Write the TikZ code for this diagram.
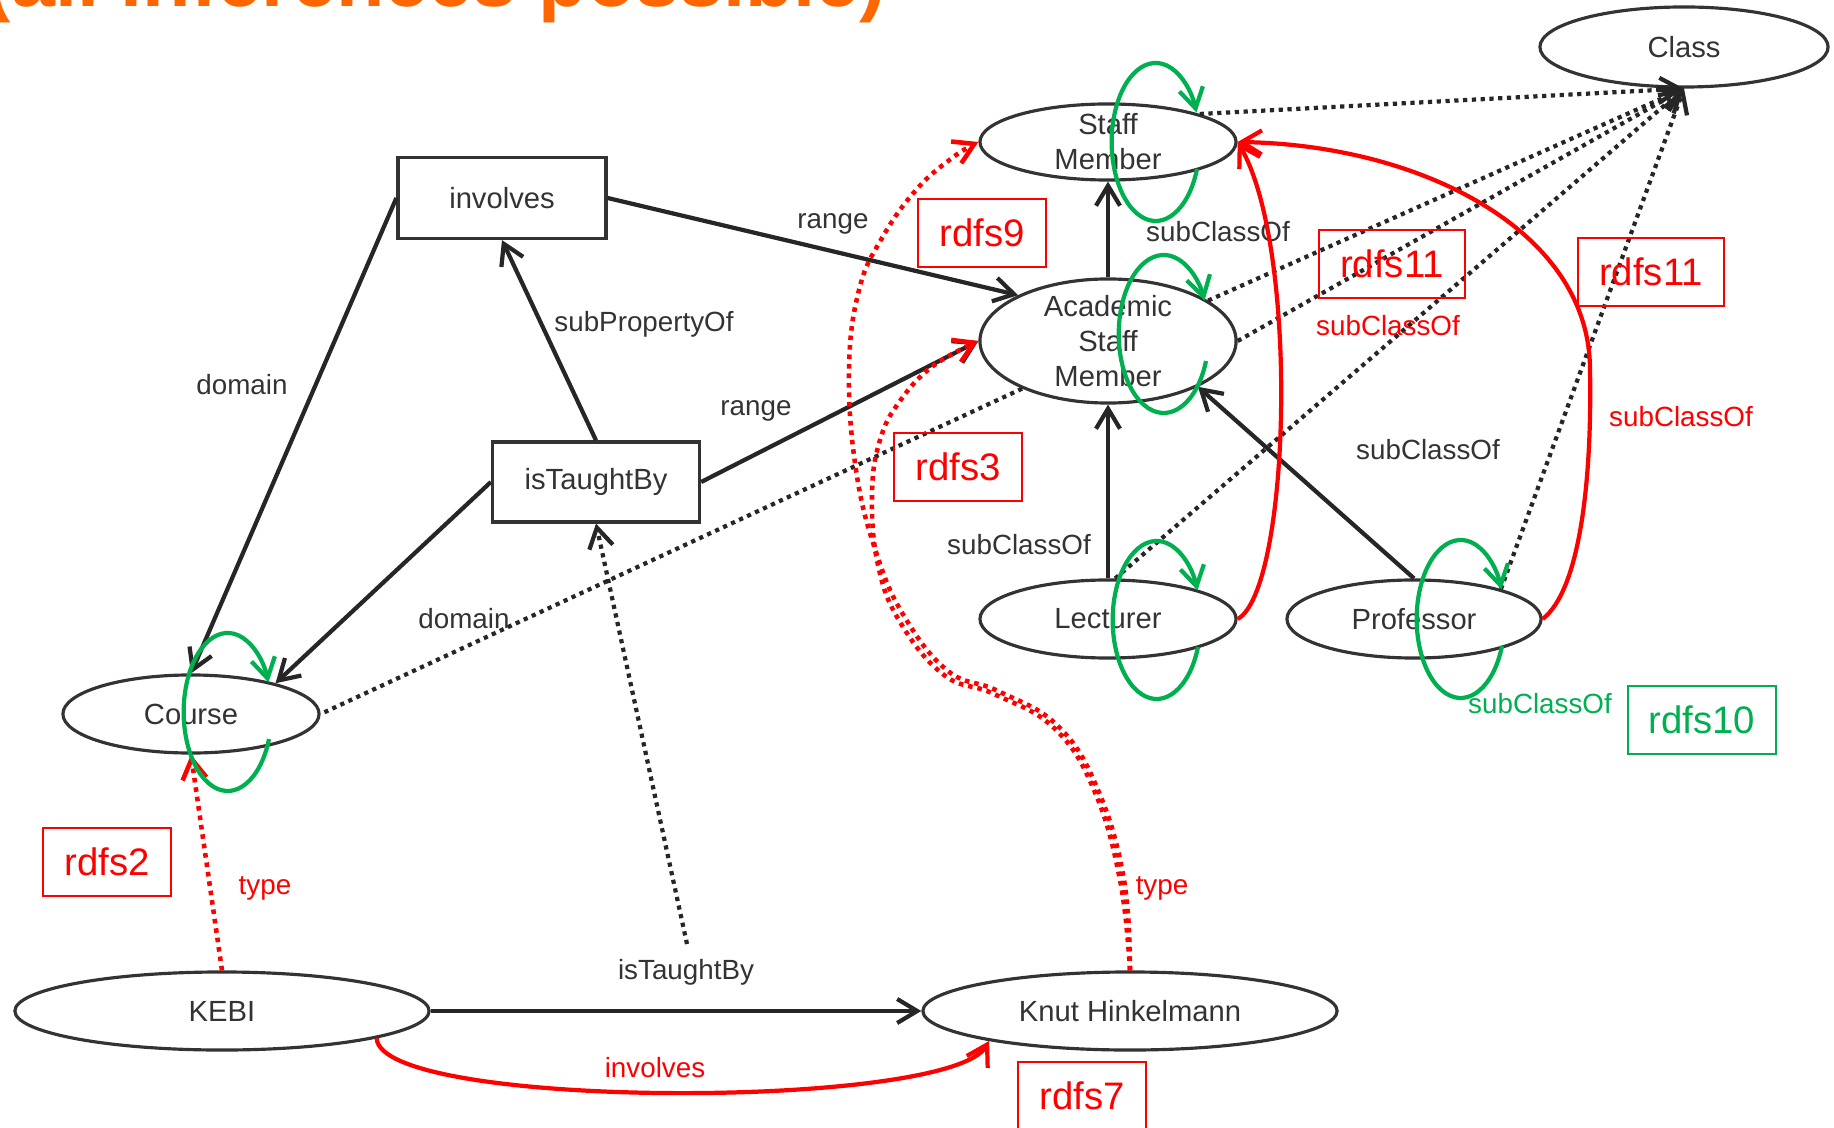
\documentclass[tikz,border=0pt]{standalone}
\usepackage{fontspec}
\setmainfont{Liberation Sans}
\usepackage{tikz}
\usetikzlibrary{arrows.meta,calc,shapes.geometric}
\definecolor{ink}{HTML}{333333}
\definecolor{rulered}{HTML}{FF0000}
\definecolor{rulegreen}{HTML}{00B050}
\definecolor{titleorange}{HTML}{FF6600}
\tikzset{
  concept/.style={ellipse, draw=ink, line width=0.9pt, text=ink, inner sep=0pt, align=center, font=\fontsize{8.3}{10}\selectfont},
  property/.style={rectangle, draw=ink, line width=0.9pt, text=ink, minimum width=2.07cm, minimum height=0.8cm, font=\fontsize{8.3}{10}\selectfont},
  rel/.style={draw=black!85, line width=1.2pt, -{Straight Barb[length=2mm,width=2.4mm]}},
  inferred/.style={draw=black!85, line width=1.2pt, dash pattern=on 1.2pt off 1.3pt, -{Straight Barb[length=2mm,width=2.4mm]}},
  inferredred/.style={draw=rulered, line width=1.3pt, dash pattern=on 1.3pt off 1.4pt, -{Straight Barb[length=2mm,width=2.4mm]}},
  derived/.style={draw=rulered, line width=1.2pt, -{Straight Barb[length=2mm,width=2.4mm]}},
  reflexive/.style={draw=rulegreen, line width=1.2pt, -{Straight Barb[length=2mm,width=2.4mm]}},
  rulebox/.style={draw=rulered, text=rulered, line width=0.6pt, minimum height=0.68cm, inner xsep=0.21cm, font=\fontsize{10.9}{12}\selectfont},
  edgelabel/.style={text=ink, inner sep=0pt, font=\fontsize{7.9}{9}\selectfont},
}

\begin{document}
\begin{tikzpicture}[x=0.01cm, y=-0.01cm]
        \useasboundingbox (0,0) rectangle (1834,1128);

        % Title, cut at the top edge
        \node[anchor=base west, inner sep=0pt, text=titleorange, font=\fontsize{22.5}{22.5}\selectfont\bfseries] (title) at (-16,7) {(all inferences possible)};

        % Classes
        \node[concept, minimum width=2.88cm, minimum height=0.80cm] (cls) at (1684,47) {Class};
        \node[concept, minimum width=2.56cm, minimum height=0.76cm, inner ysep=-0.6mm] (sm) at (1108,142) {Staff\\Member};
        \node[concept, minimum width=2.56cm, minimum height=1.24cm, inner ysep=-0.6mm] (asm) at (1108,341) {Academic\\Staff\\Member};
        \node[concept, minimum width=2.56cm, minimum height=0.78cm] (lect) at (1108,619) {Lecturer};
        \node[concept, minimum width=2.54cm, minimum height=0.78cm] (prof) at (1414,619) {Professor};
        \node[concept, minimum width=2.56cm, minimum height=0.78cm] (course) at (191,714) {Course};

        % Instances
        \node[concept, minimum width=4.14cm, minimum height=0.78cm] (kebi) at (222,1011) {KEBI};
        \node[concept, minimum width=4.14cm, minimum height=0.78cm] (knut) at (1130,1011) {Knut Hinkelmann};

        % Properties
        \node[property, minimum width=2.08cm, minimum height=0.81cm] (inv) at (502,198) {involves};
        \node[property] (itb) at (596,482) {isTaughtBy};

        % Schema edges
        \draw[rel] (inv.east) -- (asm.153);
        \draw[rel] (itb.east) -- (asm.west);
        \draw[rel] (itb.north) -- (inv.south);
        \draw[rel] (inv.west) -- (course.north);
        \draw[rel] (itb.west) -- (course.20);
        \draw[rel] (asm.north) -- (sm.south);
        \draw[rel] (lect.north) -- (asm.south);
        \draw[rel] (prof.north) -- (asm.-27);
        \draw[rel] (kebi.east) -- (knut.west);

        \node[edgelabel] (lrange1) at (833,224) {range};
        \node[edgelabel] (lrange2) at (756,411) {range};
        \node[edgelabel] (lsubprop) at (644,324) {subPropertyOf};
        \node[edgelabel] (ldomain1) at (242,385) {domain};
        \node[edgelabel] (ldomain2) at (464,619) {domain};
        \node[edgelabel] (lsub1) at (1218,232) {subClassOf};
        \node[edgelabel] (lsub2) at (1019,545) {subClassOf};
        \node[edgelabel] (lsub3) at (1428,450) {subClassOf};
        \node[edgelabel] (ltaught) at (686,972) {isTaughtBy};

        % Inferred: everything is a Class
        \draw[inferred] (sm.17) -- (cls.south);
        \draw[inferred] (asm.22) -- (cls.south);
        \draw[inferred] (asm.east) -- (cls.south);
        \draw[inferred] (lect.80) -- (cls.south);
        \draw[inferred] (prof.19) -- (cls.south);
        \draw[inferred, -] (asm.209) -- (course.east);
        \coordinate (taught) at (687,944);
        \draw[inferred] (taught) -- (itb.south);

        % Inferred types
        \draw[inferredred] (kebi.north) -- (course.south);
        \draw[inferredred] plot[smooth, tension=0.7] coordinates {(knut.north) (1124,880) (1098,790) (1058,726) (998,691) (948,671) (904,616) (876,552) (856,470) (849,370) (859,290) (882,238) (916,190) (952,158) (sm.west)};
        \draw[inferredred] plot[smooth, tension=0.7] coordinates {(knut.north) (1120,880) (1094,790) (1054,728) (994,694) (944,675) (900,622) (878,565) (872,495) (880,440) (900,401) (933,366) (asm.west)};
        \node[edgelabel, text=rulered] (ltype1) at (265,888) {type};
        \node[edgelabel, text=rulered] (ltype2) at (1162,888) {type};

        % Inferred subclass and property links
        \draw[derived] (lect.east) .. controls (1290,590) and (1300,250) .. (sm.east);
        \draw[derived] (prof.east) .. controls (1580,590) and (1592,480) .. (1590,370) .. controls (1590,230) and (1420,145) .. (sm.east);
        \draw[derived] (kebi.-10) .. controls (380,1110) and (950,1110) .. (knut.-168);
        \node[edgelabel, text=rulered] (lsub4) at (1388,326) {subClassOf};
        \node[edgelabel, text=rulered] (lsub5) at (1681,417) {subClassOf};
        \node[edgelabel, text=rulered] (linv) at (655,1068) {involves};

        % Reflexive subClassOf loops
        \draw[reflexive] ($(sm)+(89,27)$) arc[start angle=20, end angle=338, x radius=44, y radius=79];
        \draw[reflexive] ($(asm)+(98,20)$) arc[start angle=20, end angle=335, x radius=45, y radius=79];
        \draw[reflexive] ($(lect)+(90,28)$) arc[start angle=20, end angle=338, x radius=44, y radius=79];
        \draw[reflexive] ($(prof)+(88,27)$) arc[start angle=20, end angle=338, x radius=44, y radius=79];
        \draw[reflexive] ($(course)+(78,25)$) arc[start angle=20, end angle=338, x radius=44, y radius=79];
        \node[edgelabel, text=rulegreen] (lsub6) at (1540,704) {subClassOf};

        % Rules
        \node[rulebox] (r9) at (982,233) {rdfs9};
        \node[rulebox] (r3) at (958,467) {rdfs3};
        \node[rulebox] (r11a) at (1392,264) {rdfs11};
        \node[rulebox] (r11b) at (1651,272) {rdfs11};
        \node[rulebox, draw=rulegreen, text=rulegreen] (r10) at (1702,720) {rdfs10};
        \node[rulebox] (r2) at (107,862) {rdfs2};
        \node[rulebox] (r7) at (1082,1096) {rdfs7};

    \end{tikzpicture}
\end{document}
